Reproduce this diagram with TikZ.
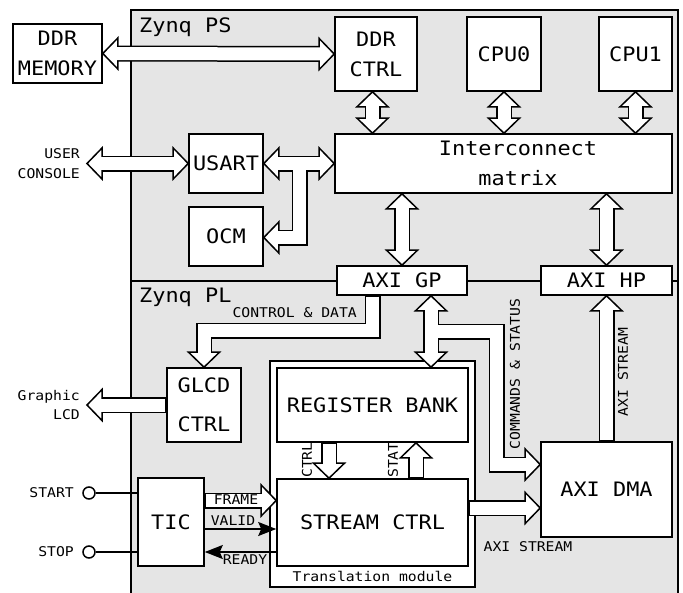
\documentclass[tikz,border=0pt]{standalone}
\usepackage{fontspec}
\setmainfont{DejaVu Sans Mono}[FakeStretch=1.1]
\usetikzlibrary{arrows.meta,calc}
\newcommand{\boxfont}{\fontsize{19.9pt}{30pt}\selectfont}
\newcommand{\lblfont}{\fontsize{13.4pt}{19.5pt}\selectfont}
\newcommand{\ahead}[2]{\filldraw[headst,shift={#1},rotate=#2] (0,0) -- (-15,15.5) -- (-15,-15.5) -- cycle;}

\begin{document}
\begin{tikzpicture}[x=1pt,y=-1pt,
  box/.style={draw,fill=white,line width=1.6pt,inner sep=0pt,align=center,font=\boxfont},
  lbl/.style={inner sep=0pt,align=center,font=\lblfont},
  pipeout/.style={line width=16pt,line join=miter,black},
  pipein/.style={line width=13pt,line join=miter,white},
  headst/.style={fill=white,draw=black,line width=1.5pt,line join=miter},
  wire/.style={line width=1.5pt},
  port/.style={draw,circle,fill=white,line width=1.5pt,minimum size=12pt,inner sep=0pt}]
\useasboundingbox (0,0) rectangle (683,592);
\draw[fill=gray!20,line width=1.6pt] (131,10) rectangle (678,600);
\draw[line width=1.6pt] (131,281) -- (678,281);
\node[anchor=west,inner sep=0pt,font=\boxfont] (pslbl) at (139,27) {Zynq PS};
\node[anchor=west,inner sep=0pt,font=\boxfont] (pllbl) at (139,297) {Zynq PL};

\node[box,minimum width=205pt,minimum height=226pt] (trans) at (372.5,474) {};
\node[box,minimum width=89pt,minimum height=59pt] (ddrmem) at (57.5,53.5) {DDR\\MEMORY};
\node[box,minimum width=82pt,minimum height=74pt] (ddrctrl) at (376,54) {DDR\\CTRL};
\node[box,minimum width=74pt,minimum height=74pt] (cpu0) at (504,54) {CPU0};
\node[box,minimum width=73pt,minimum height=74pt] (cpu1) at (635.5,54) {CPU1};
\node[box,minimum width=337pt,minimum height=59pt] (icm) at (503.5,163.5) {};
\node[inner sep=0pt,align=center,font=\boxfont] (icmtxt) at (518,163.5) {Interconnect\\matrix};
\node[box,minimum width=74pt,minimum height=59pt] (usart) at (226,163.5) {USART};
\node[box,minimum width=74pt,minimum height=59pt] (ocm) at (226,236.5) {OCM};
\node[box,minimum width=130pt,minimum height=29pt] (axigp) at (402,280.5) {AXI GP};
\node[box,minimum width=131pt,minimum height=29pt] (axihp) at (606.5,280.5) {AXI HP};
\node[box,minimum width=74pt,minimum height=74pt] (glcd) at (204,405) {GLCD\\[9pt]CTRL};
\node[box,minimum width=191pt,minimum height=74pt] (regbank) at (372.5,405) {REGISTER BANK};
\node[box,minimum width=191pt,minimum height=87pt] (streamctrl) at (372.5,522.5) {STREAM CTRL};
\node[box,minimum width=131pt,minimum height=95pt] (axidma) at (606.5,489.5) {AXI DMA};
\node[box,minimum width=66pt,minimum height=88pt] (tic) at (171,522) {TIC};
\node[port] (start) at (89,493) {};
\node[port] (stop) at (89,552) {};

\coordinate (uc) at (87,163.5);
\coordinate (lcd) at (87,405);
\coordinate (ddrx) at ([xshift=-3.5pt]ddrctrl.south);
\coordinate (ocmj) at (299.5,163.5);
\coordinate (ocmb) at (299.5,237.5);
\coordinate (cdbend) at (372.5,330.5);
\coordinate (gpx) at ([xshift=29pt]axigp.south);
\coordinate (cmd1) at (496.5,331.5);
\coordinate (cmd2) at (496.5,464.5);
\coordinate (scout) at ([yshift=14.5pt]streamctrl.east);
\coordinate (ctrlx) at ([xshift=-43.5pt]regbank.south);
\coordinate (statx) at ([xshift=43.5pt]streamctrl.north);
\coordinate (frm) at ([yshift=21.5pt]tic.east);
\coordinate (vld) at ([yshift=-7pt]tic.east);
\coordinate (rdy) at ([yshift=-30pt]tic.east);

\draw[pipeout,shorten <=15pt,shorten >=15pt] (ddrmem.east) -- (ddrctrl.west);
\draw[pipeout,shorten <=15pt,shorten >=15pt] (ddrx) -- (ddrx |- icm.north);
\draw[pipeout,shorten <=15pt,shorten >=15pt] (cpu0.south) -- (cpu0.south |- icm.north);
\draw[pipeout,shorten <=15pt,shorten >=15pt] (cpu1.south) -- (cpu1.south |- icm.north);
\draw[pipeout,shorten <=15pt,shorten >=15pt] (axigp.north |- icm.south) -- (axigp.north);
\draw[pipeout,shorten <=15pt,shorten >=15pt] (axihp.north |- icm.south) -- (axihp.north);
\draw[pipeout,shorten <=15pt,shorten >=15pt] (uc) -- (usart.west);
\draw[pipeout,shorten <=15pt,shorten >=15pt] (usart.east) -- (icm.west);
\draw[pipeout,shorten >=15pt] (ocmj) -- (ocmb) -- (ocmb -| ocm.east);
\draw[pipeout,shorten >=15pt] (glcd.west) -- (lcd);
\draw[pipeout,shorten >=15pt] ([xshift=-29.5pt]axigp.south) -- (cdbend) -- (cdbend -| glcd.north) -- (glcd.north);
\draw[pipeout,shorten <=15pt,shorten >=15pt] (gpx) -- (gpx |- regbank.north);
\draw[pipeout,shorten >=15pt] (gpx |- cmd1) -- (cmd1) -- (cmd2) -- (cmd2 -| axidma.west);
\draw[pipeout,shorten >=15pt] (axidma.north) -- (axihp.south);
\draw[pipeout,shorten >=15pt] (scout) -- (scout -| axidma.west);
\draw[pipeout,shorten >=15pt] (ctrlx) -- (ctrlx |- streamctrl.north);
\draw[pipeout,shorten >=15pt] (statx) -- (statx |- regbank.south);
\draw[pipeout,shorten >=15pt] (frm) -- (frm -| streamctrl.west);

\ahead{(ddrmem.east)}{180}
\ahead{(ddrctrl.west)}{0}
\ahead{(ddrx)}{90}
\ahead{(ddrx |- icm.north)}{-90}
\ahead{(cpu0.south)}{90}
\ahead{(cpu0.south |- icm.north)}{-90}
\ahead{(cpu1.south)}{90}
\ahead{(cpu1.south |- icm.north)}{-90}
\ahead{(axigp.north |- icm.south)}{90}
\ahead{(axigp.north)}{-90}
\ahead{(axihp.north |- icm.south)}{90}
\ahead{(axihp.north)}{-90}
\ahead{(uc)}{180}
\ahead{(usart.west)}{0}
\ahead{(usart.east)}{180}
\ahead{(icm.west)}{0}
\ahead{(ocmb -| ocm.east)}{180}
\ahead{(lcd)}{180}
\ahead{(glcd.north)}{-90}
\ahead{(gpx)}{90}
\ahead{(gpx |- regbank.north)}{-90}
\ahead{(cmd2 -| axidma.west)}{0}
\ahead{(axihp.south)}{90}
\ahead{(scout -| axidma.west)}{0}
\ahead{(ctrlx |- streamctrl.north)}{-90}
\ahead{(statx |- regbank.south)}{90}
\ahead{(frm -| streamctrl.west)}{0}

\draw[pipein,shorten <=14pt,shorten >=14pt] (ddrmem.east) -- (ddrctrl.west);
\draw[pipein,shorten <=14pt,shorten >=14pt] (ddrx) -- (ddrx |- icm.north);
\draw[pipein,shorten <=14pt,shorten >=14pt] (cpu0.south) -- (cpu0.south |- icm.north);
\draw[pipein,shorten <=14pt,shorten >=14pt] (cpu1.south) -- (cpu1.south |- icm.north);
\draw[pipein,shorten <=14pt,shorten >=14pt] (axigp.north |- icm.south) -- (axigp.north);
\draw[pipein,shorten <=14pt,shorten >=14pt] (axihp.north |- icm.south) -- (axihp.north);
\draw[pipein,shorten <=14pt,shorten >=14pt] (uc) -- (usart.west);
\draw[pipein,shorten <=14pt,shorten >=14pt] (usart.east) -- (icm.west);
\draw[pipein,shorten >=14pt] (ocmj) -- (ocmb) -- (ocmb -| ocm.east);
\draw[pipein,shorten <=0.8pt,shorten >=14pt] (glcd.west) -- (lcd);
\draw[pipein,shorten <=0.8pt,shorten >=14pt] ([xshift=-29.5pt]axigp.south) -- (cdbend) -- (cdbend -| glcd.north) -- (glcd.north);
\draw[pipein,shorten <=14pt,shorten >=14pt] (gpx) -- (gpx |- regbank.north);
\draw[pipein,shorten >=14pt] (gpx |- cmd1) -- (cmd1) -- (cmd2) -- (cmd2 -| axidma.west);
\draw[pipein,shorten <=0.8pt,shorten >=14pt] (axidma.north) -- (axihp.south);
\draw[pipein,shorten <=0.8pt,shorten >=14pt] (scout) -- (scout -| axidma.west);
\draw[pipein,shorten <=0.8pt,shorten >=14pt] (ctrlx) -- (ctrlx |- streamctrl.north);
\draw[pipein,shorten <=0.8pt,shorten >=14pt] (statx) -- (statx |- regbank.south);
\draw[pipein,shorten <=0.8pt,shorten >=14pt] (frm) -- (frm -| streamctrl.west);

\draw[wire,-{Stealth[length=18pt,width=14pt,inset=3pt]}] (vld) -- (vld -| streamctrl.west);
\draw[wire,-{Stealth[length=18pt,width=14pt,inset=3pt]}] (rdy -| streamctrl.west) -- (rdy);
\draw[wire] (start) -- (start -| tic.west);
\draw[wire] (stop) -- (stop -| tic.west);

\node[lbl,anchor=east,align=right] (uclbl) at (80,163.5) {USER\\CONSOLE};
\node[lbl,anchor=east,align=right] (lcdlbl) at (80,405) {Graphic\\LCD};
\node[lbl,anchor=east] (startlbl) at (74,493) {START};
\node[lbl,anchor=east] (stoplbl) at (74,552) {STOP};
\node[lbl,anchor=east] (cdlbl) at (357,313) {CONTROL \& DATA};
\node[lbl,rotate=90] (cmdlbl) at (515,374) {COMMANDS \& STATUS};
\node[lbl,rotate=90] (hplbl) at (623,372) {AXI STREAM};
\node[lbl,rotate=90] (ctrllbl) at (307,460) {CTRL};
\node[lbl,rotate=90] (statlbl) at (393,460) {STAT};
\node[lbl] (frmlbl) at (236,500) {FRAME};
\node[lbl] (vldlbl) at (233,521) {VALID};
\node[lbl] (rdylbl) at (245,560) {READY};
\node[lbl] (dmalbl) at (528,547) {AXI STREAM};
\node[lbl] (translbl) at (372.5,576) {Translation module};
\end{tikzpicture}
\end{document}
